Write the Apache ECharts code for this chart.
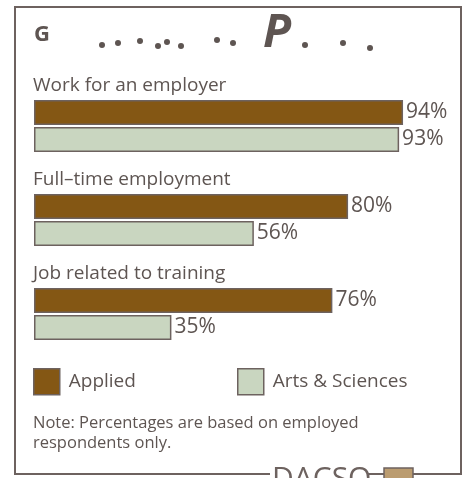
<!DOCTYPE html>
<html>
<head>
<meta charset="utf-8">
<style>
  html, body { margin: 0; padding: 0; background: #ffffff; }
  #chart { width: 469px; height: 478px; }
</style>
<script src="https://cdn.jsdelivr.net/npm/echarts@6/dist/echarts.min.js"></script>
</head>
<body>
<div id="chart"></div>
<script>
// ---- data ----
const categories = ['Work for an employer', 'Full\u2013time employment', 'Job related to training'];
const seriesNames = ['Applied', 'Arts & Sciences'];
const appliedValues = [94, 80, 76];
const artsValues = [93, 56, 35];
const noteText = 'Note: Percentages are based on employed\nrespondents only.';
const logoText = 'DACSO';

// ---- styles ----
const FONT = 'Open Sans';
const TEXT = '#5e5552';
const EDGE = '#6d625f';
const C_APPLIED = '#845714';
const C_ARTS = '#c9d6c0';

const chart = echarts.init(document.getElementById('chart'), null, { renderer: 'canvas' });

// title fragments (the reference title glyphs are broken; approximated as marks)
const frag = [
  [102, 45], [118, 43], [140, 41], [158, 46], [167, 42], [181, 46],
  [217, 40], [233, 43], [305, 45], [343, 43], [370, 48]
];
const graphics = [
  { type: 'rect', shape: { x: 15, y: 7, width: 446, height: 467 }, style: { fill: 'none', stroke: EDGE, lineWidth: 2 }, z: 1 },
  { type: 'rect', shape: { x: 270, y: 470, width: 98, height: 8 }, style: { fill: '#ffffff' }, z: 2 },
  { type: 'text', x: 272, y: 464, style: { text: logoText, font: '30px "' + FONT + '"', fill: EDGE }, z: 3 },
  { type: 'rect', shape: { x: 384, y: 468, width: 29, height: 14 }, style: { fill: '#bb9c70', stroke: EDGE, lineWidth: 1.5 }, z: 3 },
  { type: 'text', x: 34, y: 24, style: { text: 'G', font: 'bold 22px "' + FONT + '"', fill: TEXT }, z: 3 },
  { type: 'text', x: 263, y: 11, style: { text: 'P', font: 'italic bold 46px "' + FONT + '"', fill: TEXT }, z: 3 }
];
frag.forEach(function (p) {
  graphics.push({ type: 'circle', shape: { cx: p[0], cy: p[1], r: 3 }, style: { fill: TEXT }, z: 3 });
});
graphics.push({ type: 'text', x: 33, y: 413, style: { text: noteText, font: '16.5px "' + FONT + '"', fill: TEXT, lineHeight: 20 }, z: 3 });

const legendBase = {
  top: 368, itemWidth: 26, itemHeight: 26, padding: 0, icon: 'rect',
  itemStyle: { borderColor: EDGE, borderWidth: 1.5 },
  textStyle: { fontFamily: FONT, fontSize: 19, color: TEXT, padding: [0, 0, 0, 4] }
};

const option = {
  animation: false,
  textStyle: { fontFamily: FONT, color: TEXT },
  grid: { left: 34, top: 65.5, width: 392.6, height: 282, containLabel: false },
  xAxis: { type: 'value', min: 0, max: 100, show: false },
  yAxis: {
    type: 'category', inverse: true, data: categories,
    axisLine: { show: false }, axisTick: { show: false }, axisLabel: { show: false }, splitLine: { show: false }
  },
  legend: [
    Object.assign({}, legendBase, { data: [seriesNames[0]], left: 33 }),
    Object.assign({}, legendBase, { data: [seriesNames[1]], left: 237 })
  ],
  series: [
    {
      name: 'labels', type: 'bar', barWidth: 25, barGap: '8%', silent: true,
      data: categories.map(function () { return 0; }),
      itemStyle: { color: 'transparent' },
      label: {
        show: true, position: 'insideLeft', distance: -1,
        formatter: function (p) { return p.name; },
        fontFamily: FONT, fontSize: 19, color: TEXT
      }
    },
    {
      name: seriesNames[0], type: 'bar', barWidth: 25, barGap: '8%',
      data: appliedValues,
      itemStyle: { color: C_APPLIED, borderColor: EDGE, borderWidth: 1.5 },
      label: { show: true, position: 'right', distance: 3, formatter: '{c}%', fontFamily: FONT, fontSize: 21, color: TEXT }
    },
    {
      name: seriesNames[1], type: 'bar', barWidth: 25, barGap: '8%',
      data: artsValues,
      itemStyle: { color: C_ARTS, borderColor: EDGE, borderWidth: 1.5 },
      label: { show: true, position: 'right', distance: 3, formatter: '{c}%', fontFamily: FONT, fontSize: 21, color: TEXT }
    }
  ],
  graphic: graphics
};
chart.setOption(option);
</script>
</body>
</html>
